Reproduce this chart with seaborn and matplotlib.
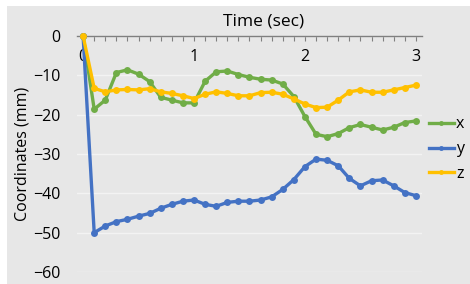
import numpy as np
import pandas as pd
import matplotlib
matplotlib.use("Agg")
import matplotlib.pyplot as plt
import seaborn as sns
from matplotlib.patches import Rectangle
from matplotlib.ticker import MultipleLocator

time = [round(0.1 * i, 1) for i in range(31)]
x_mm = [0, -18.6, -16.3, -9.3, -8.6, -9.7, -11.6, -15.6, -16.3, -17.0, -17.0,
        -11.5, -9.1, -8.9, -9.8, -10.5, -11.0, -11.2, -12.2, -15.4, -20.5,
        -25.0, -25.6, -24.8, -23.3, -22.5, -23.2, -23.9, -23.2, -22.0, -21.6]
y_mm = [0, -50.0, -48.3, -47.2, -46.6, -45.8, -45.1, -43.8, -42.8, -42.0, -41.7,
        -42.8, -43.3, -42.3, -42.0, -42.0, -41.7, -40.9, -39.0, -36.5, -33.2,
        -31.3, -31.6, -33.0, -36.2, -38.1, -36.8, -36.6, -38.1, -39.8, -40.6]
z_mm = [0, -13.3, -14.2, -13.7, -13.6, -13.7, -13.4, -14.2, -14.6, -15.2, -15.9,
        -14.8, -14.2, -14.6, -15.2, -15.2, -14.4, -14.3, -14.8, -16.0, -17.3,
        -18.2, -18.1, -16.3, -14.2, -13.7, -14.3, -14.3, -13.7, -13.1, -12.5]

df = pd.DataFrame({"Time": time * 3,
                   "mm": x_mm + y_mm + z_mm,
                   "axis": ["x"] * 31 + ["y"] * 31 + ["z"] * 31})

colors = {"x": "#70ad47", "y": "#4472c4", "z": "#ffc000"}
bg = "#e7e7e7"

plt.rcParams["font.family"] = ["Open Sans", "DejaVu Sans"]

fig = plt.figure(figsize=(4.7, 2.84), dpi=100, facecolor="white")
fig.patches.append(Rectangle((7 / 470, 0), 1, 1 - 6 / 284, transform=fig.transFigure,
                             facecolor=bg, edgecolor="none", zorder=-5))

ax = fig.add_axes([77 / 470, 1 - 272 / 284, 345 / 470, 236 / 284])
ax.set_facecolor("none")

sns.lineplot(data=df, x="Time", y="mm", hue="axis", palette=colors, marker="o",
             markersize=5, markeredgewidth=0, linewidth=2.4, ax=ax, clip_on=False)

ax.set_xlim(-0.055, 3.055)
ax.set_ylim(-60, 0)
ax.set_yticks([0, -10, -20, -30, -40, -50, -60])
ax.xaxis.set_major_locator(MultipleLocator(1))
ax.xaxis.set_minor_locator(MultipleLocator(0.1))
ax.grid(axis="y", color="#f3f3f3", linewidth=1)
ax.set_axisbelow(True)

for s in ["top", "left", "right"]:
    ax.spines[s].set_visible(False)
ax.spines["bottom"].set_position(("data", 0))
ax.spines["bottom"].set_color("#7f7f7f")
ax.spines["bottom"].set_linewidth(1)
ax.spines["bottom"].set_zorder(1)

ax.tick_params(axis="x", which="both", direction="out", length=3.5, width=0.8,
               color="#7f7f7f", labelsize=11.5, pad=6)
ax.tick_params(axis="y", length=0, labelsize=11.5, pad=12)
ax.set_xlabel("")
ax.set_ylabel("Coordinates (mm)", fontsize=11.5, labelpad=2)
fig.text(264 / 470, 1 - 22 / 284, "Time (sec)", ha="center", va="center", fontsize=12.5)

handles, labels = ax.get_legend_handles_labels()
leg = ax.legend(handles, labels, frameon=False, loc="center left",
                bbox_to_anchor=(1.02, 0.52), fontsize=11.5, handlelength=1.55,
                handletextpad=0.15, labelspacing=0.55, borderpad=0, borderaxespad=0)
for h in leg.legend_handles:
    h.set_markersize(3.5)

fig.savefig("out.png", dpi=100, facecolor="white")
